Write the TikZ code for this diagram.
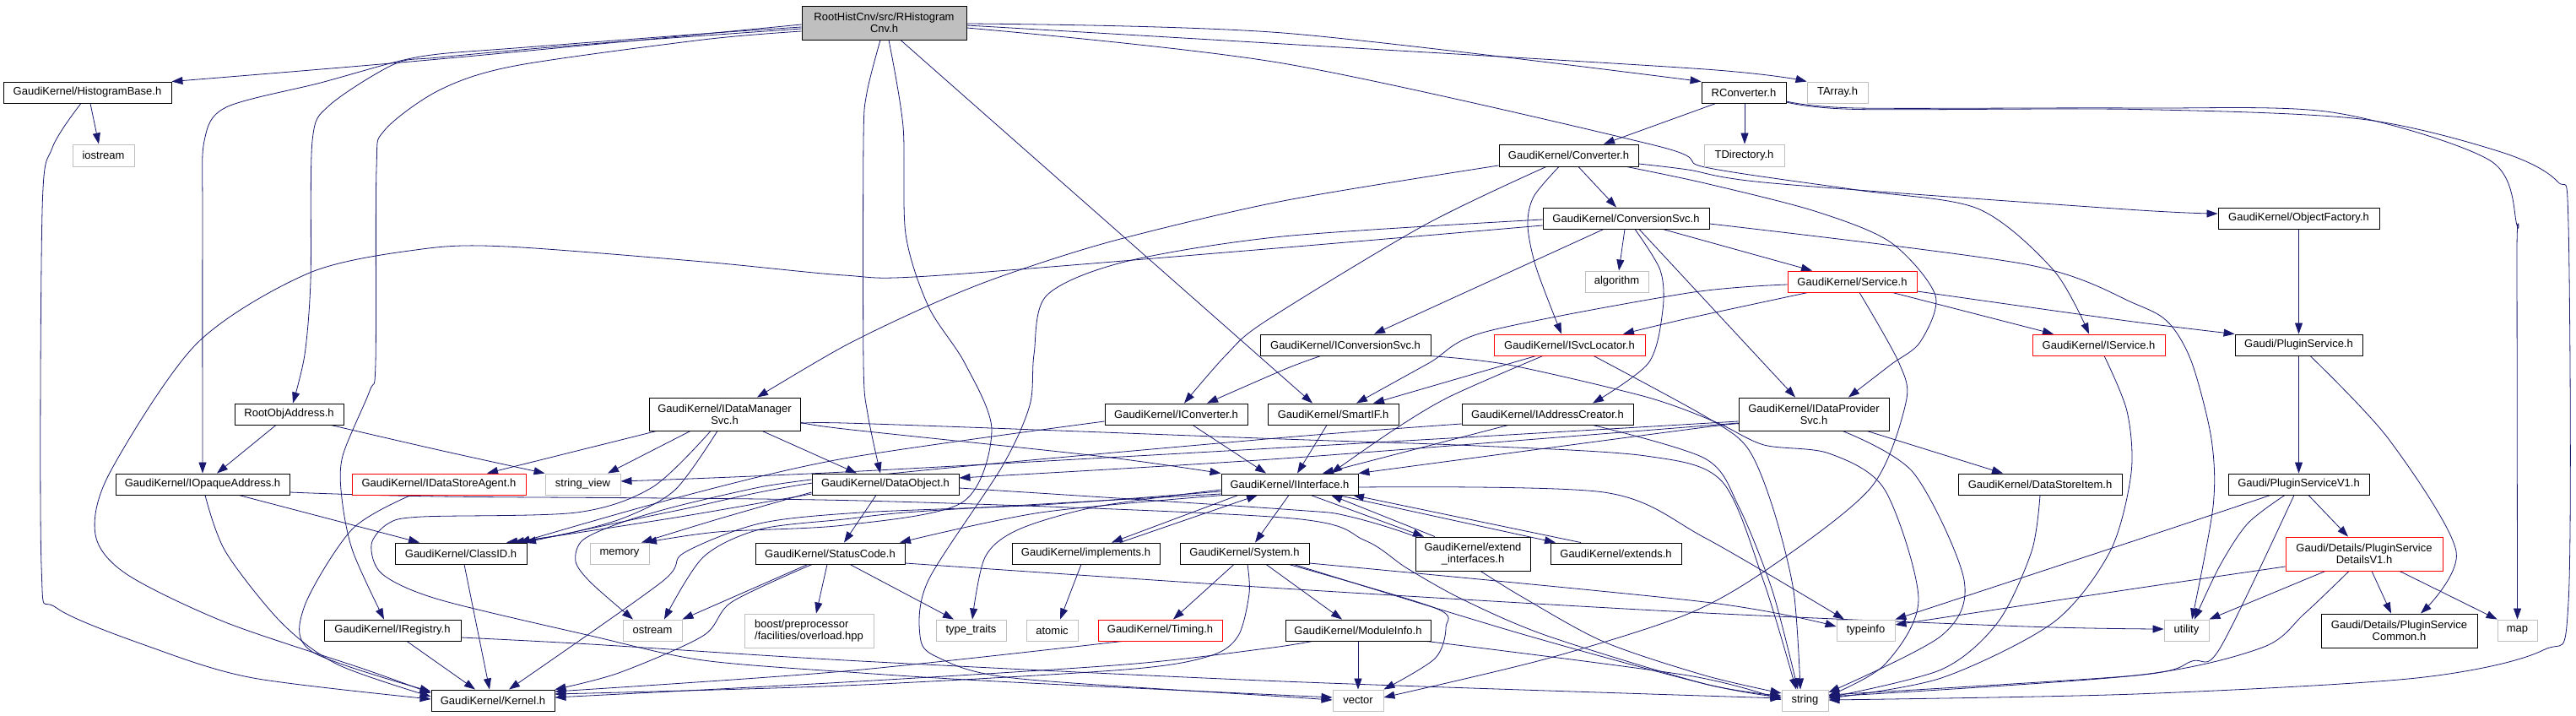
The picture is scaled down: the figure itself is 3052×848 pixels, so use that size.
\documentclass[tikz,border=0pt]{standalone}
\usepackage{fontspec}
\setmainfont{Liberation Sans}
\usetikzlibrary{arrows.meta}
\definecolor{edgec}{HTML}{191970}
\definecolor{grayb}{HTML}{BFBFBF}
\pgfdeclarelayer{bg}
\pgfsetlayers{bg,main}
\tikzset{
 nb/.style={draw=black, fill=white, line width=0.9pt, inner sep=0pt, align=center, font=\fontsize{13}{14}\selectfont, text=black},
 sysn/.style={nb, draw=grayb},
 redn/.style={nb, draw=red},
 rootn/.style={nb, fill=grayb},
 e/.style={draw=edgec, line width=0.8pt, -{Triangle[length=13pt,width=9pt]}},
}
\newcommand\N[7]{\node[#2, minimum width=#5pt, minimum height=#6pt] (#1) at (#3,#4) {#7};}
\newcommand\E[1]{\draw[e] plot[smooth,tension=0.5] coordinates {#1};}
\begin{document}
\begin{tikzpicture}[x=1pt,y=-1pt]
\useasboundingbox (0,0) rectangle (3052,848);
\begin{pgfonlayer}{bg}
\fill[white] (0,0) rectangle (3052,848);
\end{pgfonlayer}
\N{root}{rootn}{1047.5}{27}{195}{40}{RootHistCnv/src/RHistogram\\Cnv.h}
\N{hb}{nb}{103.5}{109.5}{199}{25}{GaudiKernel/HistogramBase.h}
\N{iostream}{sysn}{122.5}{184}{73}{26}{iostream}
\N{rconv}{nb}{2066}{109.5}{100}{25}{RConverter.h}
\N{tarray}{sysn}{2177}{109.5}{72}{25}{TArray.h}
\N{tdir}{sysn}{2066.5}{184}{95}{26}{TDirectory.h}
\N{conv}{nb}{1858.5}{184}{165}{26}{GaudiKernel/Converter.h}
\N{csvc}{nb}{1926.5}{258.5}{197}{25}{GaudiKernel/ConversionSvc.h}
\N{algo}{sysn}{1915.5}{333.5}{75}{25}{algorithm}
\N{objf}{nb}{2723.5}{258.5}{191}{25}{GaudiKernel/ObjectFactory.h}
\N{svc}{redn}{2194.5}{333.5}{153}{25}{GaudiKernel/Service.h}
\N{icsvc}{nb}{1594}{408.5}{202}{25}{GaudiKernel/IConversionSvc.h}
\N{isl}{redn}{1859.5}{408.5}{179}{25}{GaudiKernel/ISvcLocator.h}
\N{isvc}{redn}{2486.5}{408.5}{157}{25}{GaudiKernel/IService.h}
\N{plug}{nb}{2723.5}{408.5}{151}{25}{Gaudi/PluginService.h}
\N{rootobj}{nb}{342.5}{490.5}{129}{25}{RootObjAddress.h}
\N{idms}{nb}{858.5}{490.5}{179}{39}{GaudiKernel/IDataManager\\Svc.h}
\N{iconv}{nb}{1393.5}{490.5}{169}{25}{GaudiKernel/IConverter.h}
\N{smartif}{nb}{1579.5}{490.5}{155}{25}{GaudiKernel/SmartIF.h}
\N{iac}{nb}{1833.5}{490.5}{203}{25}{GaudiKernel/IAddressCreator.h}
\N{idps}{nb}{2149}{490.5}{178}{39}{GaudiKernel/IDataProvider\\Svc.h}
\N{ioa}{nb}{240}{573.5}{206}{25}{GaudiKernel/IOpaqueAddress.h}
\N{idsa}{redn}{520}{573.5}{206}{25}{GaudiKernel/IDataStoreAgent.h}
\N{sv}{sysn}{690.5}{573.5}{89}{25}{string\_view}
\N{dobj}{nb}{1049}{573.5}{174}{25}{GaudiKernel/DataObject.h}
\N{iif}{nb}{1528}{573.5}{162}{25}{GaudiKernel/IInterface.h}
\N{dsi}{nb}{2417}{573.5}{194}{25}{GaudiKernel/DataStoreItem.h}
\N{plugv1}{nb}{2723.5}{573.5}{167}{25}{Gaudi/PluginServiceV1.h}
\N{classid}{nb}{546}{655.5}{156}{25}{GaudiKernel/ClassID.h}
\N{memory}{sysn}{734}{655.5}{70}{25}{memory}
\N{sc}{nb}{983.5}{655.5}{177}{25}{GaudiKernel/StatusCode.h}
\N{impl}{nb}{1286.5}{655.5}{175}{25}{GaudiKernel/implements.h}
\N{sys}{nb}{1474.5}{655.5}{153}{25}{GaudiKernel/System.h}
\N{extif}{nb}{1745}{656}{136}{40}{GaudiKernel/extend\\\_interfaces.h}
\N{extends}{nb}{1914.5}{655.5}{155}{25}{GaudiKernel/extends.h}
\N{pdv1}{redn}{2801}{656}{186}{40}{Gaudi/Details/PluginService\\DetailsV1.h}
\N{ireg}{nb}{465}{746.5}{162}{25}{GaudiKernel/IRegistry.h}
\N{ostream}{sysn}{773}{746.5}{70}{25}{ostream}
\node[sysn, align=left, minimum width=153pt, minimum height=40pt] (boost) at (958.5,747) {boost/preprocessor\\/facilities/overload.hpp};
\N{typetraits}{sysn}{1150.5}{746.5}{83}{25}{type\_traits}
\N{atomic}{sysn}{1246.5}{746.5}{61}{25}{atomic}
\N{timing}{redn}{1374.5}{746.5}{147}{25}{GaudiKernel/Timing.h}
\N{modinfo}{nb}{1609}{746.5}{172}{25}{GaudiKernel/ModuleInfo.h}
\N{typeinfo}{sysn}{2210.5}{746.5}{69}{25}{typeinfo}
\N{utility}{sysn}{2590.5}{746.5}{53}{25}{utility}
\N{pcommon}{nb}{2842.5}{747}{185}{40}{Gaudi/Details/PluginService\\Common.h}
\N{map}{sysn}{2982.5}{746.5}{47}{25}{map}
\N{kernel}{nb}{584}{829.5}{146}{25}{GaudiKernel/Kernel.h}
\N{vector}{sysn}{1609}{829.5}{60}{25}{vector}
\N{string}{sysn}{2138.5}{829.5}{55}{25}{string}
\begin{pgfonlayer}{bg}
% root
\E{(root.west |- 0,29) (520,70) (hb.north east)}
\E{(root.west |- 0,32) (833,40) (610,57) (520,64) (470,73) (380,98) (268,127) (242,167) (240,260) (ioa.north)}
\E{(root.west |- 0,34) (700,52) (520,68) (467,76) (390,125) (370,167) (368,333) (361,420) (rootobj.north -| 347,0)}
\E{(root.west |- 0,37) (833,47) (610,78) (520,107) (455,155) (446,200) (445,430) (438,463) (406,540) (405,590) (418,653) (ireg.north -| 455,0)}
\E{(root.south -| 1043,0) (1027,110) (1023,167) (1023,430) (1028,490) (dobj.north -| 1043,0)}
\E{(root.south -| 1053,0) (1070,150) (1073,277) (1100,363) (1143,430) (1175,510) (1140,595) (1000,622) (850,630) (memory.north -| 765,0)}
\E{(root.south -| 1067,0) (smartif.north -| 1555,0)}
\E{(root.east |- 0,28) (1520,39) (rconv.north west)}
\E{(root.east |- 0,30) (1520,52) (2020,82) (tarray.north west)}
\E{(root.east |- 0,33) (1520,75) (1960,172) (2020,198) (2200,225) (2343,247) (2433,320) (isvc.north -| 2475,0)}
% hb
\E{(hb.south -| 107,0) (iostream.north -| 117,0)}
\E{(hb.south -| 96,0) (62,175) (50,250) (49,670) (67,720) (180,767) (300,803) (kernel.west |- 0,828)}
% rconv
\E{(rconv.south -| 2033,0) (conv.north -| 1900,0)}
\E{(rconv.south -| 2067,0) (tdir.north -| 2067,0)}
\E{(rconv.east |- 0,120) (2200,128) (2530,128) (2763,133) (2950,190) (2982,267) (2982,300) (map.north)}
\E{(rconv.east |- 0,121) (2200,129.5) (2530,129.5) (2797,141) (2963,180) (3030,215) (3043,267) (3043,713) (3013,770) (2863,803) (2530,822) (string.east |- 0,829)}
% conv
\E{(conv.west |- 0,196) (1520,238) (1320,285) (1187,327) (1100,362) (1000,410) (idms.north -| 897,0)}
\E{(conv.south -| 1832,0) (1687,267) (1500,380) (1453,420) (iconv.north -| 1403,0)}
\E{(conv.south -| 1847,0) (1817,233) (1810,267) (1820,317) (isl.north -| 1850,0)}
\E{(conv.south -| 1870,0) (csvc.north -| 1915,0)}
\E{(conv.east |- 0,194) (2000,201) (2100,217) (2520,248) (objf.west |- 0,253)}
\E{(conv.south -| 1927,0) (2020,217) (2150,250) (2240,287) (2293,350) (2275,405) (2240,432) (idps.north -| 2190,0)}
% csvc
\E{(csvc.west |- 0,267) (1500,295) (1100,327) (1000,326) (833,310) (600,292) (500,295) (367,323) (233,407) (130,560) (113,633) (150,680) (267,737) (433,793) (kernel.west |- 0,821)}
\E{(csvc.west |- 0,260) (1520,280) (1333,310) (1240,350) (1225,420) (1220,480) (1187,553) (1100,687) (1090,753) (1110,778) (1200,803) (1520,825) (vector.west |- 0,829)}
\E{(csvc.south -| 1900,0) (icsvc.north -| 1628,0)}
\E{(csvc.south -| 1925,0) (algo.north -| 1918,0)}
\E{(csvc.south -| 1937,0) (1967,320) (1970,367) (1953,430) (iac.north -| 1887,0)}
\E{(csvc.south -| 1942,0) (idps.north -| 2127,0)}
\E{(csvc.south -| 1970,0) (svc.north -| 2147,0)}
\E{(csvc.east |- 0,265) (2400,313) (2530,360) (2570,383) (2597,430) (2620,520) (2622,600) (utility.north -| 2597,0)}
% svc
\E{(svc.south -| 2142,0) (2000,377) (isl.north -| 1923,0)}
\E{(svc.west |- 0,337) (2000,347) (1760,393) (1693,430) (smartif.north -| 1607,0)}
\E{(svc.south -| 2242,0) (isvc.north -| 2433,0)}
\E{(svc.east |- 0,345) (2520,380) (plug.north west)}
\E{(svc.south -| 2203,0) (2250,430) (2258,477) (2217,577) (2100,670) (2000,727) (1833,780) (vector.east |- 0,826)}
% icsvc, isl, isvc, plug, objf
\E{(icsvc.south -| 1565,0) (1523,437) (iconv.north -| 1430,0)}
\E{(icsvc.south -| 1693,0) (1787,432) (1950,470) (2033,500) (2090,527) (2167,537) (2233,580) (2273,710) (2233,787) (string.east |- 0,824)}
\E{(isl.south -| 1820,0) (smartif.north -| 1627,0)}
\E{(isl.south -| 1828,0) (1717,470) (1650,510) (iif.north -| 1577,0)}
\E{(isl.south -| 1888,0) (2020,493) (2070,530) (2100,600) (2125,700) (string.north -| 2133,0)}
\E{(isvc.south -| 2493,0) (2520,487) (2525,560) (2500,653) (2433,737) (2300,803) (string.east |- 0,827)}
\E{(plug.south) (plugv1.north)}
\E{(plug.south -| 2737,0) (2830,520) (2910,653) (pcommon.north -| 2868,0)}
\E{(objf.south) (plug.north)}
% rank 6
\E{(rootobj.south -| 327,0) (ioa.north -| 257,0)}
\E{(rootobj.south -| 392,0) (520,533) (sv.north west)}
\E{(idms.south -| 778,0) (idsa.north -| 577,0)}
\E{(idms.south -| 818,0) (sv.north -| 720,0)}
\E{(idms.south -| 850,0) (800,580) (740,613) (667,633) (classid.north -| 600,0)}
\E{(idms.south -| 842,0) (773,577) (683,607) (500,612) (460,620) (440,645) (453,680) (520,710) (700,753) (833,782) (1020,797) (1200,808) (vector.west |- 0,826)}
\E{(idms.south -| 903,0) (dobj.north -| 1015,0)}
\E{(idms.east |- 0,500) (1000,508) (1300,540) (iif.north west)}
\E{(idms.east |- 0,505) (1000,501) (1520,520) (1750,528) (1950,540) (2040,570) (2090,690) (string.north -| 2128,0)}
\E{(iconv.south -| 1413,0) (iif.north -| 1500,0)}
\E{(iconv.west |- 0,499) (1000,543) (800,590) (classid.north -| 615,0)}
\E{(smartif.south -| 1572,0) (iif.north -| 1537,0)}
\E{(iac.south -| 1787,0) (iif.north -| 1567,0)}
\E{(iac.west |- 0,502) (1500,520) (1000,567) (800,605) (classid.north -| 622,0)}
\E{(iac.south -| 1887,0) (2020,543) (2060,600) (2100,700) (string.north -| 2130,0)}
\E{(idps.west |- 0,503) (2020,506) (iif.north east)}
\E{(idps.west |- 0,499) (1700,520) (1020,558) (sv.east |- 0,570)}
\E{(idps.west |- 0,501) (1520,543) (dobj.east |- 0,566)}
\E{(idps.south -| 2212,0) (dsi.north -| 2373,0)}
\E{(idps.south -| 2183,0) (2267,560) (2327,687) (2300,753) (string.east |- 0,820)}
% rank 7
\E{(ioa.south -| 283,0) (classid.north -| 497,0)}
\E{(ioa.south -| 243,0) (267,653) (333,737) (400,787) (kernel.west |- 0,825)}
\E{(ioa.east |- 0,583) (520,588) (1020,593) (1520,613) (1617,640) (1667,673) (1733,710) (1833,753) (2020,810) (string.west |- 0,824)}
\E{(idsa.south -| 487,0) (417,627) (360,720) (370,772) (kernel.west |- 0,819)}
\E{(dobj.west |- 0,585) (800,613) (classid.north -| 608,0)}
\E{(dobj.south -| 1038,0) (sc.north -| 1000,0)}
\E{(dobj.west |- 0,583) (850,615) (memory.north -| 760,0)}
\E{(dobj.west |- 0,568) (900,577) (800,600) (733,620) (690,640) (682,665) (700,690) (ostream.north -| 750,0)}
\E{(dobj.east |- 0,578) (1520,603) (1600,612) (1700,645) (1800,705) (1900,760) (2020,800) (string.west |- 0,821)}
\E{(iif.south -| 1450,0) (1233,607) (sc.north -| 1066,0)}
\E{(iif.south -| 1527,0) (sys.north -| 1487,0)}
\E{(iif.south -| 1467,0) (impl.north -| 1317,0)}
\E{(impl.north -| 1327,0) (iif.south -| 1490,0)}
\E{(iif.south -| 1553,0) (extif.north -| 1687,0)}
\E{(extif.north -| 1700,0) (iif.south -| 1577,0)}
\E{(iif.south -| 1585,0) (extends.north -| 1843,0)}
\E{(extends.north -| 1873,0) (iif.south -| 1603,0)}
\E{(iif.west |- 0,580) (1300,600) (1207,627) (1167,660) (typetraits.north -| 1152,0)}
\E{(iif.east |- 0,577) (1900,583) (2020,637) (typeinfo.north -| 2185,0)}
\E{(iif.west |- 0,582) (1233,598) (1020,607) (900,620) (810,655) (783,690) (kernel.north -| 603,0)}
\E{(iif.west |- 0,585) (1100,605) (1000,615) (900,627) (833,660) (ostream.north -| 787,0)}
% rank 8
\E{(sc.south -| 957,0) (ostream.north east)}
\E{(sc.south -| 980,0) (boost.north -| 967,0)}
\E{(sc.south -| 1007,0) (typetraits.north -| 1130,0)}
\E{(sc.south -| 962,0) (867,713) (833,753) (733,797) (kernel.north east)}
\E{(sc.east |- 0,667) (1520,697) (2000,725) (2400,742) (utility.west |- 0,745)}
\E{(impl.south -| 1281,0) (atomic.north -| 1256,0)}
\E{(sys.south -| 1462,0) (timing.north -| 1390,0)}
\E{(sys.south -| 1500,0) (modinfo.north -| 1590,0)}
\E{(sys.south -| 1478,0) (1480,703) (1467,753) (1433,777) (1333,793) (1000,812) (kernel.east |- 0,822)}
\E{(sys.south -| 1527,0) (1700,720) (1713,743) (1700,780) (vector.north east)}
\E{(sys.east |- 0,667) (2020,713) (typeinfo.west |- 0,742)}
\E{(sys.south -| 1533,0) (1800,750) (2020,810) (string.west |- 0,826)}
\E{(modinfo.south) (vector.north)}
\E{(modinfo.south -| 1555,0) (1500,768) (1333,787) (1000,808) (kernel.east |- 0,826)}
\E{(modinfo.south -| 1690,0) (2000,800) (string.west |- 0,829)}
\E{(timing.south -| 1330,0) (1000,795) (kernel.east |- 0,819)}
\E{(dsi.south -| 2417,0) (2407,653) (2367,737) (2300,793) (string.east |- 0,826)}
\E{(plugv1.south -| 2735,0) (pdv1.north -| 2782,0)}
\E{(plugv1.south -| 2707,0) (2663,620) (2630,670) (utility.north -| 2600,0)}
\E{(plugv1.south -| 2718,0) (2630,768) (2597,783) (2530,800) (string.east |- 0,823)}
\E{(plugv1.south -| 2690,0) (2530,640) (typeinfo.north east)}
\E{(pdv1.south -| 2810,0) (pcommon.north -| 2833,0)}
\E{(pdv1.south -| 2843,0) (map.north west)}
\E{(pdv1.south -| 2755,0) (utility.north east)}
\E{(pdv1.south -| 2783,0) (2730,727) (2680,767) (2530,800) (string.east |- 0,825)}
\E{(pdv1.west |- 0,671) (2530,697) (typeinfo.east |- 0,740)}
\E{(ireg.south -| 482,0) (kernel.north -| 563,0)}
\E{(ireg.east |- 0,755) (700,763) (1020,783) (1520,807) (string.west |- 0,827)}
\E{(classid.south -| 550,0) (kernel.north -| 580,0)}
\end{pgfonlayer}
\end{tikzpicture}
\end{document}
